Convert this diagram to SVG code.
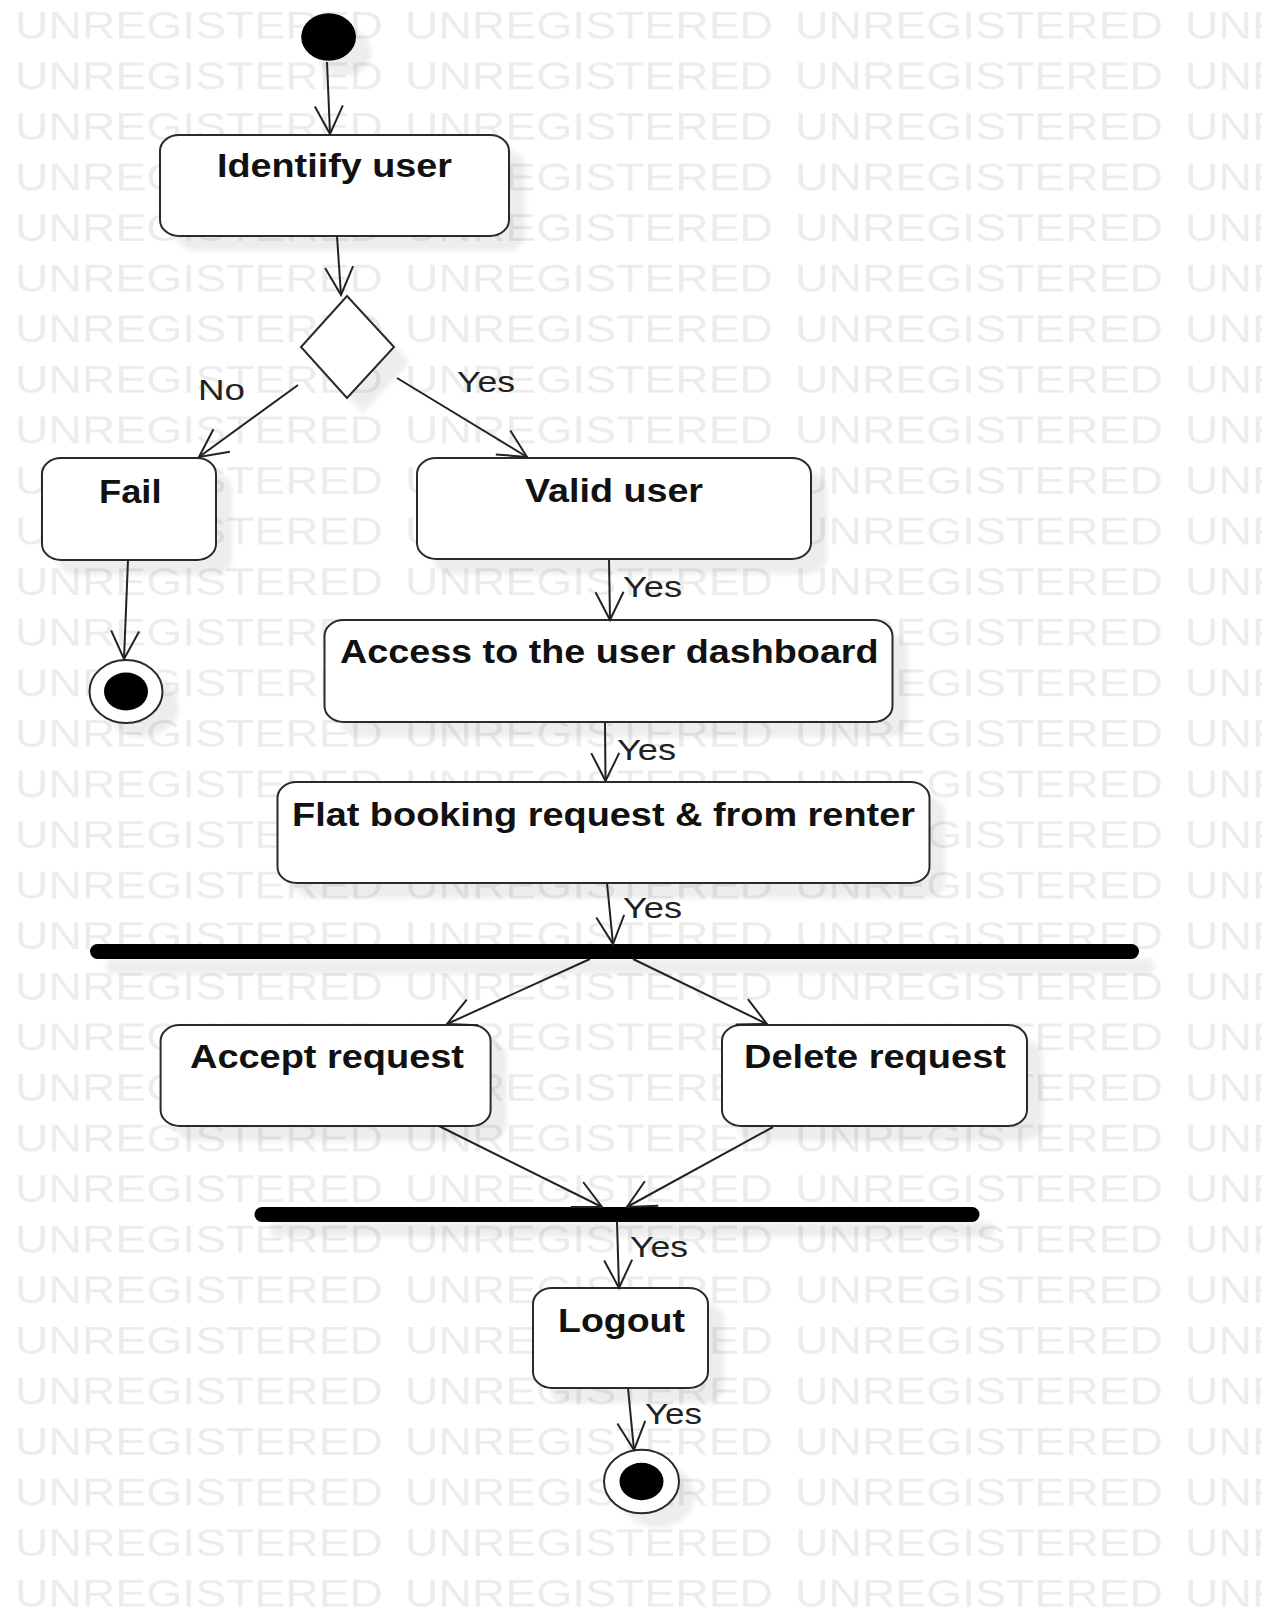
<svg xmlns="http://www.w3.org/2000/svg" width="1262" height="1609" viewBox="0 0 1262 1609">
  <style>
    .wm { font-family: "Liberation Sans", Arial, sans-serif; font-size: 39px; fill: #ececec; }
    .box { fill: #ffffff; stroke: #2a2a2a; stroke-width: 2; }
    .shadow { fill: #000000; fill-opacity: 0.07; filter: url(#soft); }
    .title { font-family: "Liberation Sans", Arial, sans-serif; font-size: 33px; font-weight: bold; fill: #111111; }
    .guard { font-family: "Liberation Sans", Arial, sans-serif; font-size: 29px; fill: #222222; }
    .flow { fill: none; stroke: #222222; stroke-width: 2; marker-end: url(#open); }
    .bar { fill: #000000; }
    .dot { fill: #000000; }
  </style>
  <defs>
    <filter id="soft" x="-20%" y="-20%" width="140%" height="140%">
      <feGaussianBlur stdDeviation="2.5"/>
    </filter>
    <marker id="open" viewBox="-32 -17 36 34" refX="0" refY="0" markerWidth="36" markerHeight="34" markerUnits="userSpaceOnUse" orient="auto">
      <path d="M -28,-14 L 0,0 L -28,14" fill="none" stroke="#222222" stroke-width="2"/>
    </marker>
    <pattern id="wm" patternUnits="userSpaceOnUse" x="0" y="0" width="390" height="50.58">
      <text class="wm" x="15" y="38.5" textLength="368" lengthAdjust="spacingAndGlyphs">UNREGISTERED</text>
    </pattern>
  </defs>

  <!-- page and background marks -->
  <rect width="1262" height="1609" fill="#ffffff"/>
  <rect width="1262" height="1609" fill="url(#wm)"/>

  <!-- initial state -->
  <g id="start">
    <ellipse class="shadow" cx="344" cy="52" rx="27.4" ry="23.7"/>
    <ellipse class="dot" cx="328.6" cy="37" rx="27.4" ry="23.7"/>
  </g>

  <g id="identify-user">
    <rect class="shadow" x="176" y="150" width="349" height="101" rx="19" ry="16"/>
    <rect class="box" x="160" y="135" width="349" height="101" rx="19" ry="16"/>
    <text class="title" x="217" y="177" textLength="235" lengthAdjust="spacingAndGlyphs">Identiify user</text>
  </g>

  <g id="decision">
    <polygon class="shadow" points="363,311 410,362 363,413 317,362"/>
    <polygon class="box" points="347,296 394,347 347,398 301,347"/>
  </g>

  <g id="fail">
    <rect class="shadow" x="58" y="473" width="174" height="102" rx="19" ry="16"/>
    <rect class="box" x="42" y="458" width="174" height="102" rx="19" ry="16"/>
    <text class="title" x="99" y="503" textLength="62.5" lengthAdjust="spacingAndGlyphs">Fail</text>
  </g>

  <g id="end-fail">
    <ellipse class="shadow" cx="142" cy="706" rx="36.5" ry="31.5"/>
    <ellipse class="box" cx="126" cy="691.5" rx="36.5" ry="31.5"/>
    <ellipse class="dot" cx="126" cy="691.5" rx="22" ry="19"/>
  </g>

  <g id="valid-user">
    <rect class="shadow" x="433" y="473" width="394" height="101" rx="19" ry="16"/>
    <rect class="box" x="417" y="458" width="394" height="101" rx="19" ry="16"/>
    <text class="title" x="525" y="502" textLength="178" lengthAdjust="spacingAndGlyphs">Valid user</text>
  </g>

  <g id="user-dashboard">
    <rect class="shadow" x="340" y="635" width="568" height="102" rx="19" ry="16"/>
    <rect class="box" x="324.5" y="620" width="568" height="102" rx="19" ry="16"/>
    <text class="title" x="340" y="663" textLength="538.6" lengthAdjust="spacingAndGlyphs">Access to the user dashboard</text>
  </g>

  <g id="booking-request">
    <rect class="shadow" x="293" y="797" width="652" height="101" rx="19" ry="16"/>
    <rect class="box" x="277.5" y="782" width="652" height="101" rx="19" ry="16"/>
    <text class="title" x="292" y="826" textLength="623" lengthAdjust="spacingAndGlyphs">Flat booking request &amp; from renter</text>
  </g>

  <g id="fork">
    <rect class="shadow" x="106" y="959" width="1049" height="15" rx="7.5"/>
    <rect class="bar" x="90" y="944" width="1049" height="15" rx="7.5"/>
  </g>

  <g id="accept-request">
    <rect class="shadow" x="176" y="1040" width="330" height="101" rx="19" ry="16"/>
    <rect class="box" x="160.6" y="1025" width="330" height="101" rx="19" ry="16"/>
    <text class="title" x="190" y="1068" textLength="274" lengthAdjust="spacingAndGlyphs">Accept request</text>
  </g>

  <g id="delete-request">
    <rect class="shadow" x="738" y="1040" width="305" height="101" rx="19" ry="16"/>
    <rect class="box" x="722" y="1025" width="305" height="101" rx="19" ry="16"/>
    <text class="title" x="744" y="1068" textLength="262" lengthAdjust="spacingAndGlyphs">Delete request</text>
  </g>

  <g id="join">
    <rect class="shadow" x="270" y="1222" width="725" height="15" rx="7.5"/>
    <rect class="bar" x="254.5" y="1207" width="725" height="15" rx="7.5"/>
  </g>

  <g id="logout">
    <rect class="shadow" x="549" y="1303" width="175" height="100" rx="19" ry="16"/>
    <rect class="box" x="533" y="1288" width="175" height="100" rx="19" ry="16"/>
    <text class="title" x="558" y="1332" textLength="127" lengthAdjust="spacingAndGlyphs">Logout</text>
  </g>

  <g id="end-final">
    <ellipse class="shadow" cx="657" cy="1496" rx="37.5" ry="31.7"/>
    <ellipse class="box" cx="641.5" cy="1481.5" rx="37.5" ry="31.7"/>
    <ellipse class="dot" cx="641.5" cy="1481.5" rx="22" ry="18.7"/>
  </g>

  <!-- control flows -->
  <g id="connectors">
    <line class="flow" x1="327" y1="62" x2="330" y2="134"/>
    <line class="flow" x1="337" y1="236" x2="341" y2="295"/>
    <line class="flow" x1="298" y1="385" x2="199" y2="457"/>
    <line class="flow" x1="397" y1="378" x2="527" y2="457"/>
    <line class="flow" x1="128" y1="560" x2="124" y2="659"/>
    <line class="flow" x1="609" y1="559" x2="610" y2="620"/>
    <line class="flow" x1="605" y1="722" x2="605.5" y2="781"/>
    <line class="flow" x1="607" y1="883" x2="613" y2="944"/>
    <line class="flow" x1="590" y1="959" x2="447" y2="1024"/>
    <line class="flow" x1="633" y1="959" x2="767" y2="1024"/>
    <line class="flow" x1="439" y1="1126" x2="602" y2="1207"/>
    <line class="flow" x1="773" y1="1127" x2="627" y2="1207"/>
    <line class="flow" x1="617" y1="1222" x2="619" y2="1288"/>
    <line class="flow" x1="628" y1="1388" x2="634" y2="1450"/>

    <text class="guard" x="198" y="400" textLength="47" lengthAdjust="spacingAndGlyphs">No</text>
    <text class="guard" x="457" y="392" textLength="58" lengthAdjust="spacingAndGlyphs">Yes</text>
    <text class="guard" x="623" y="597" textLength="59" lengthAdjust="spacingAndGlyphs">Yes</text>
    <text class="guard" x="617" y="760" textLength="59" lengthAdjust="spacingAndGlyphs">Yes</text>
    <text class="guard" x="623" y="918" textLength="59" lengthAdjust="spacingAndGlyphs">Yes</text>
    <text class="guard" x="630" y="1257" textLength="58" lengthAdjust="spacingAndGlyphs">Yes</text>
    <text class="guard" x="645" y="1424" textLength="57" lengthAdjust="spacingAndGlyphs">Yes</text>
  </g>
</svg>
